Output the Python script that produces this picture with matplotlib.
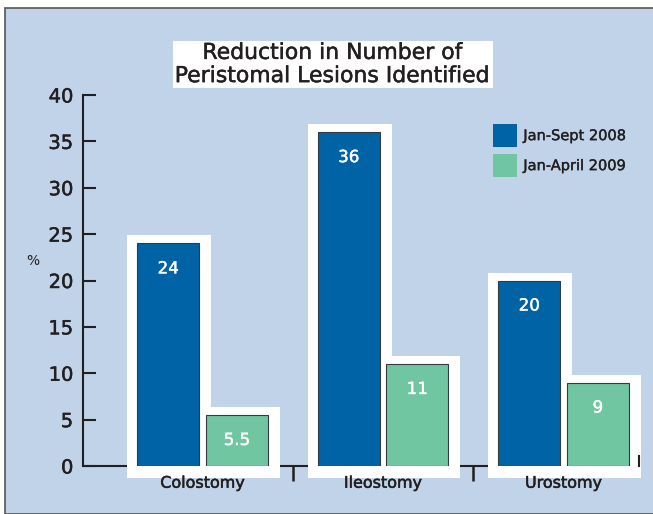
import matplotlib.pyplot as plt
import matplotlib.patheffects as pe
from matplotlib.patches import Rectangle

categories = ["Colostomy", "Ileostomy", "Urostomy"]
series_names = ["Jan-Sept 2008", "Jan-April 2009"]
values_2008 = [24, 36, 20]
values_2009 = [5.5, 11, 9]
value_labels_2008 = ["24", "36", "20"]
value_labels_2009 = ["5.5", "11", "9"]
yticks = [0, 5, 10, 15, 20, 25, 30, 35, 40]

BLUE = "#0063a5"
GREEN = "#70c6a1"
PANEL = "#c1d3e8"
INK = "#231f20"

plt.rcParams["font.family"] = ["DejaVu Sans"]

# the original type is a medium weight; thicken regular strokes a little
heavy = [pe.withStroke(linewidth=0.35, foreground=INK)]
heavy_white = [pe.withStroke(linewidth=0.3, foreground="white")]

W, H = 653, 514
fig = plt.figure(figsize=(W / 100, H / 100), dpi=100, facecolor="white")

# light blue panel with a grey border on top/left
fig.patches.append(Rectangle((5 / W, 0), 1, 1 - 8 / H, transform=fig.transFigure,
                             facecolor=PANEL, edgecolor="#555555", linewidth=1.2,
                             zorder=-5))

ax = fig.add_axes([83 / W, 1 - 466 / H, (639 - 83) / W, (466 - 95) / H])
ax.set_zorder(2)
ax.set_facecolor("none")
ax.set_xlim(-0.662, 2.418)
ax.set_ylim(0, 40)

px = 1 / 180.5          # one pixel in x data units
py = 40 / (466 - 95)    # one pixel in y data units
width = 62 * px
off = 34.3 * px
x = list(range(len(categories)))

for vals, labels, color, sign in [(values_2008, value_labels_2008, BLUE, -1),
                                   (values_2009, value_labels_2009, GREEN, 1)]:
    xs = [xi + sign * off for xi in x]
    for xi, v in zip(xs, vals):
        # white halo box behind each bar, running down past the axis
        ax.add_patch(Rectangle((xi - width / 2 - 10 * px, -12 * py),
                               width + 22 * px, v + 20 * py,
                               facecolor="white", edgecolor="none",
                               zorder=1.5, clip_on=False))
    bars = ax.bar(xs, vals, width, color=color, edgecolor="#333a40",
                  linewidth=0.8, zorder=1.8)
    for b, lab in zip(bars, labels):
        ax.annotate(lab, (b.get_x() + b.get_width() / 2, b.get_height()),
                    xytext=(0, -18), textcoords="offset points",
                    ha="center", va="center", color="white", fontsize=12,
                    zorder=3, path_effects=heavy_white)

ax.spines["top"].set_visible(False)
for s in ["left", "bottom", "right"]:
    ax.spines[s].set_linewidth(1.5)
    ax.spines[s].set_color(INK)
ax.spines["bottom"].set_zorder(1)
ax.spines["right"].set_bounds(0, 10 * py)

ax.set_yticks(yticks)
ax.tick_params(axis="y", direction="in", length=9.4, width=1.5, color=INK,
               labelsize=14, labelcolor=INK, pad=7)
ax.set_xticks(x)
ax.set_xticklabels(categories)
ax.tick_params(axis="x", which="major", length=0, labelsize=11.5,
               labelcolor=INK, pad=7)
ax.set_xticks([0.5, 1.5], minor=True)
ax.tick_params(axis="x", which="minor", direction="out", length=10.5,
               width=1.8, color=INK)
for t in ax.get_xticklabels() + ax.get_yticklabels():
    t.set_path_effects(heavy)

fig.text(33 / W, 1 - 261 / H, "%", fontsize=10, color=INK,
         ha="center", va="center")

fig.text(333 / W, 1 - 64.5 / H,
         "Reduction in Number of\nPeristomal Lesions Identified",
         ha="center", va="center", fontsize=15.8, color=INK, linespacing=1.2,
         path_effects=heavy,
         bbox=dict(boxstyle="square,pad=0.1", facecolor="white",
                   edgecolor="none"))

handles = [Rectangle((0, 0), 1, 1, facecolor=c) for c in (BLUE, GREEN)]
leg = fig.legend(handles, series_names, loc="upper left",
                 bbox_to_anchor=(492.7 / W, 1 - 124 / H), frameon=False,
                 fontsize=10.5, handlelength=1.65, handleheight=2.05,
                 handletextpad=0.45, labelspacing=0.48, borderpad=0,
                 borderaxespad=0, labelcolor=INK)
for t in leg.get_texts():
    t.set_path_effects([pe.withStroke(linewidth=0.25, foreground=INK)])

fig.savefig("out.png", dpi=100, facecolor="white")
